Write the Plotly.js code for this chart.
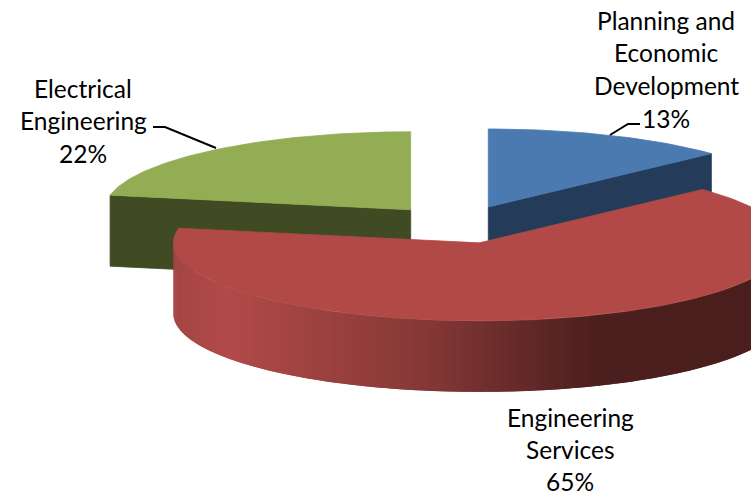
<!DOCTYPE html>
<html>
<head>
<meta charset="utf-8">
<script src="https://cdn.plot.ly/plotly-3.0.1.min.js"></script>
<style>html,body{margin:0;padding:0;background:#fff;overflow:hidden}#chart{width:751px;height:496px}</style>
</head>
<body>
<div id="chart"></div>
<script>
// Data, clockwise from 12 o'clock
var categories = ["Planning and Economic Development", "Engineering Services", "Electrical Engineering"];
var shares = [13, 65, 22];
var labelLines = [["Planning and", "Economic", "Development"], ["Engineering", "Services"], ["Electrical", "Engineering"]];

// Style
var topColors = ["#4A7AB0", "#B14A47", "#93AD54"];
var wallColors = ["#243C5A", "#4B1F1D", "#404A23"];
var redWallStops = [[173, [165, 70, 67]], [230, [177, 74, 72]], [430, [132, 56, 54]], [600, [75, 31, 29]], [751, [75, 31, 29]]];
var fontFamily = "Lato, Carlito, 'Open Sans', sans-serif";
var fontSize = 24.5;

// Projection of the exploded tilted pie
var pieCenter = [458.5, 224.5], radiusX = 306, radiusY = 78, depth = 71, explode = 75;
var labelAnchors = [[666, 20], [570, 417], [83, 88]];
var labelGaps = [32.7, 32, 32.7];
var leaders = [
  {x: [610, 628, 640], y: [135, 124, 124]},
  {x: [153, 165, 216], y: [127, 127, 148]}
];

function rad(d) { return d * Math.PI / 180; }
var total = shares.reduce(function (a, b) { return a + b; }, 0);
var cum = 0;
var slices = shares.map(function (v) {
  var a0 = cum / total * 360; cum += v; var a1 = cum / total * 360; var m = rad((a0 + a1) / 2);
  return {
    a0: a0, a1: a1,
    cx: pieCenter[0] + explode * Math.sin(m),
    cy: pieCenter[1] - explode * Math.cos(m) * radiusY / radiusX
  };
});
function rim(s, deg, dz) {
  return [s.cx + radiusX * Math.sin(rad(deg)), s.cy - radiusY * Math.cos(rad(deg)) + (dz || 0)];
}
function poly(pts, color, w) {
  return {
    type: "scatter", mode: "lines", fill: "toself", fillcolor: color,
    x: pts.map(function (p) { return p[0]; }), y: pts.map(function (p) { return p[1]; }),
    line: {color: color, width: w === undefined ? 0.8 : w}, hoverinfo: "skip", showlegend: false
  };
}
function topFace(s, color) {
  var pts = [[s.cx, s.cy]];
  for (var d = s.a0; d <= s.a1 + 1e-6; d += 1) pts.push(rim(s, Math.min(d, s.a1)));
  pts.push(rim(s, s.a1)); pts.push([s.cx, s.cy]);
  return poly(pts, color);
}
function radialWall(s, deg, color) {
  var e = rim(s, deg);
  return poly([[s.cx, s.cy], e, [e[0], e[1] + depth], [s.cx, s.cy + depth], [s.cx, s.cy]], color);
}
function wallShade(x) {
  var st = redWallStops;
  if (x <= st[0][0]) return "rgb(" + st[0][1].join(",") + ")";
  for (var i = 1; i < st.length; i++) {
    if (x <= st[i][0]) {
      var t = (x - st[i - 1][0]) / (st[i][0] - st[i - 1][0]);
      return "rgb(" + st[i - 1][1].map(function (c, k) { return Math.round(c + (st[i][1][k] - c) * t); }).join(",") + ")";
    }
  }
  return "rgb(" + st[st.length - 1][1].join(",") + ")";
}

var traces = [];
// Back slices: walls then tops
traces.push(radialWall(slices[2], slices[2].a0, wallColors[2]));
traces.push(radialWall(slices[0], slices[0].a1, wallColors[0]));
traces.push(topFace(slices[2], topColors[2]));
traces.push(topFace(slices[0], topColors[0]));
// Front slice outer wall in narrow overlapping shaded strips, drawn right to left
var red = slices[1], step = 0.75;
for (var d = 90; d < 270; d += step) {
  var a = rim(red, d), b = rim(red, Math.min(d + step * 2, 270));
  traces.push(poly([a, b, [b[0], b[1] + depth], [a[0], a[1] + depth], a], wallShade(a[0]), 0));
}
traces.push(topFace(red, topColors[1]));
// Leader lines
leaders.forEach(function (l) {
  traces.push({type: "scatter", mode: "lines", x: l.x, y: l.y, line: {color: "#000", width: 2}, hoverinfo: "skip", showlegend: false});
});

// Labels
var annotations = [];
labelLines.forEach(function (lines, i) {
  lines.concat([shares[i] + "%"]).forEach(function (t, j) {
    annotations.push({
      x: labelAnchors[i][0], y: labelAnchors[i][1] + j * labelGaps[i], xref: "x", yref: "y",
      text: t, showarrow: false, xanchor: "center", yanchor: "middle",
      font: {family: fontFamily, size: fontSize, color: "#000"}
    });
  });
});

Plotly.newPlot("chart", traces, {
  width: 751, height: 496, margin: {l: 0, r: 0, t: 0, b: 0},
  paper_bgcolor: "#fff", plot_bgcolor: "#fff", showlegend: false,
  xaxis: {range: [0, 751], visible: false, fixedrange: true},
  yaxis: {range: [496, 0], visible: false, fixedrange: true},
  annotations: annotations, hovermode: false
}, {displayModeBar: false, staticPlot: true});
</script>
</body>
</html>
